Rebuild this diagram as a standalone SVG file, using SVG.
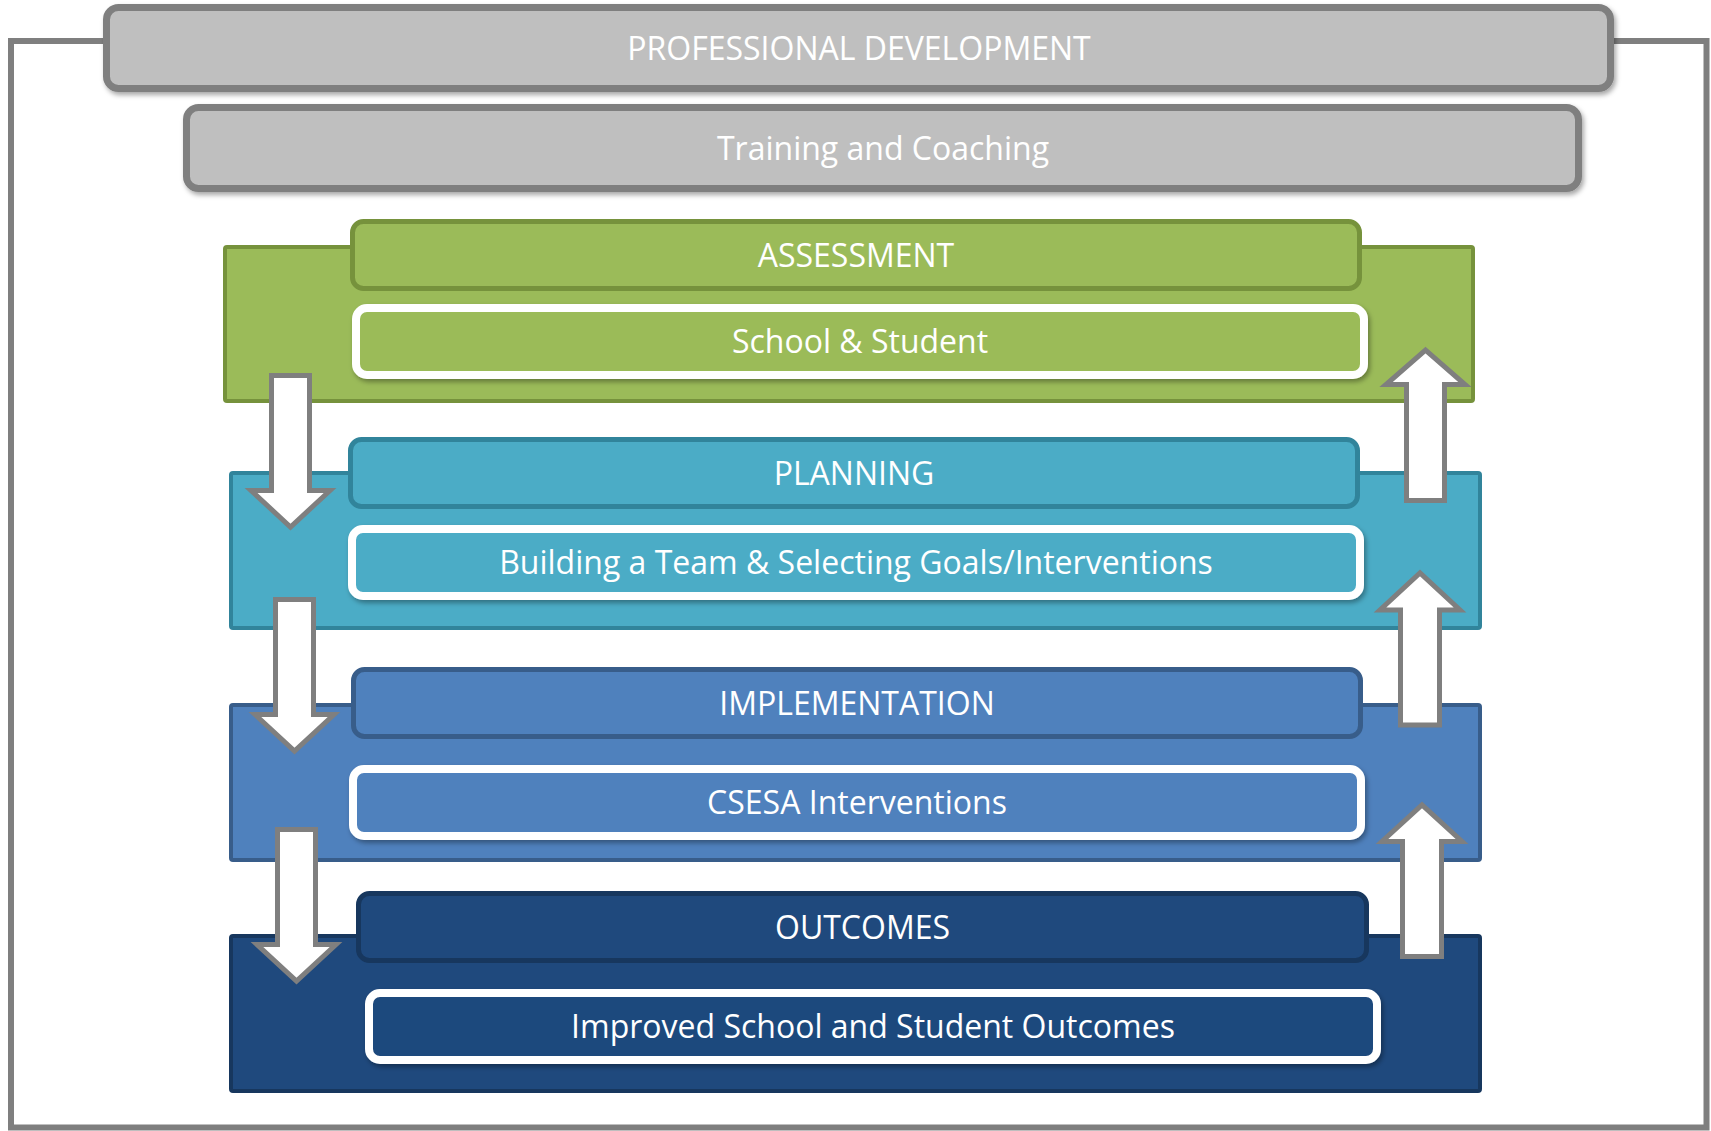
<svg xmlns="http://www.w3.org/2000/svg" width="1711" height="1131" viewBox="0 0 1711 1131">
<defs>
<filter id="sh" x="-5%" y="-30%" width="110%" height="170%">
<feDropShadow dx="2" dy="3" stdDeviation="2.5" flood-color="#000" flood-opacity="0.35"/>
</filter>
<style>
text{font-family:"Open Sans","Liberation Sans",sans-serif;fill:#fff;text-anchor:middle;font-size:32px}
.gray{fill:#BFBFBF;stroke:#7F7F7F;stroke-width:7}
.band{stroke-width:4}
.hdr{stroke-width:5}
.sub{stroke:#fff;stroke-width:8}
.g{fill:#9BBB59}.gs{stroke:#76923C}
.t{fill:#4BACC6}.ts{stroke:#31849B}
.b{fill:#4F81BD}.bs{stroke:#385D8A}
.n{fill:#1F497D}.ns{stroke:#17375E}
.arr{fill:#fff;stroke:#7F7F7F;stroke-width:5;stroke-miterlimit:10}
</style>
</defs>
<rect id="frame" x="11" y="41" width="1695.5" height="1086.5" fill="none" stroke="#7F7F7F" stroke-width="6"/>
<g id="pd">
<rect class="gray" x="106.5" y="7.5" width="1504" height="81" rx="12" filter="url(#sh)"/>
<text x="859" y="60">PROFESSIONAL DEVELOPMENT</text>
</g>
<g id="training">
<rect class="gray" x="186.5" y="107.5" width="1392" height="81" rx="12" filter="url(#sh)"/>
<text x="883" y="160">Training and Coaching</text>
</g>
<g id="assessment">
<rect class="g gs band" x="225" y="247" width="1248" height="154" rx="2"/>
<rect class="g gs hdr" x="352.5" y="221.5" width="1007" height="67" rx="11"/>
<text x="856" y="267">ASSESSMENT</text>
<rect class="g sub" x="356" y="308" width="1008" height="67" rx="11" filter="url(#sh)"/>
<text x="860" y="353">School &amp; Student</text>
</g>
<g id="planning">
<rect class="t ts band" x="231" y="473" width="1249" height="155" rx="2"/>
<rect class="t ts hdr" x="350.5" y="439.5" width="1007" height="67" rx="11"/>
<text x="854" y="485">PLANNING</text>
<rect class="t sub" x="352" y="529" width="1008" height="67" rx="11" filter="url(#sh)"/>
<text x="856" y="574">Building a Team &amp; Selecting Goals/Interventions</text>
</g>
<g id="implementation">
<rect class="b bs band" x="231" y="705" width="1249" height="155" rx="2"/>
<rect class="b bs hdr" x="353.5" y="669.5" width="1007" height="67" rx="11"/>
<text x="857" y="715">IMPLEMENTATION</text>
<rect class="b sub" x="353" y="769" width="1008" height="67" rx="11" filter="url(#sh)"/>
<text x="857" y="814">CSESA Interventions</text>
</g>
<g id="outcomes">
<rect class="n ns band" x="231" y="936" width="1249" height="155" rx="2"/>
<rect class="n ns hdr" x="358.5" y="893.5" width="1008" height="67" rx="11"/>
<text x="862.5" y="939">OUTCOMES</text>
<rect class="n sub" x="369" y="993" width="1008" height="67" rx="11" filter="url(#sh)"/>
<text x="873" y="1038">Improved School and Student Outcomes</text>
</g>
<g id="connectors">
<polygon class="arr" points="271.5,375.5 309.5,375.5 309.5,490.5 330,490.5 290.5,527 251,490.5 271.5,490.5"/>
<polygon class="arr" points="275.5,599.5 313.5,599.5 313.5,714.5 334,714.5 294.5,751 255,714.5 275.5,714.5"/>
<polygon class="arr" points="277.5,829.5 315.5,829.5 315.5,944.5 336,944.5 296.5,981 257,944.5 277.5,944.5"/>
<polygon class="arr" points="1406.5,500.5 1444.5,500.5 1444.5,384.5 1465,384.5 1425.5,350 1386,384.5 1406.5,384.5"/>
<polygon class="arr" points="1400.5,725 1439.5,725 1439.5,610 1460,610 1420,573 1380,610 1400.5,610"/>
<polygon class="arr" points="1402.5,956.5 1441.5,956.5 1441.5,841.5 1462,841.5 1422,805 1382,841.5 1402.5,841.5"/>
</g>
</svg>
